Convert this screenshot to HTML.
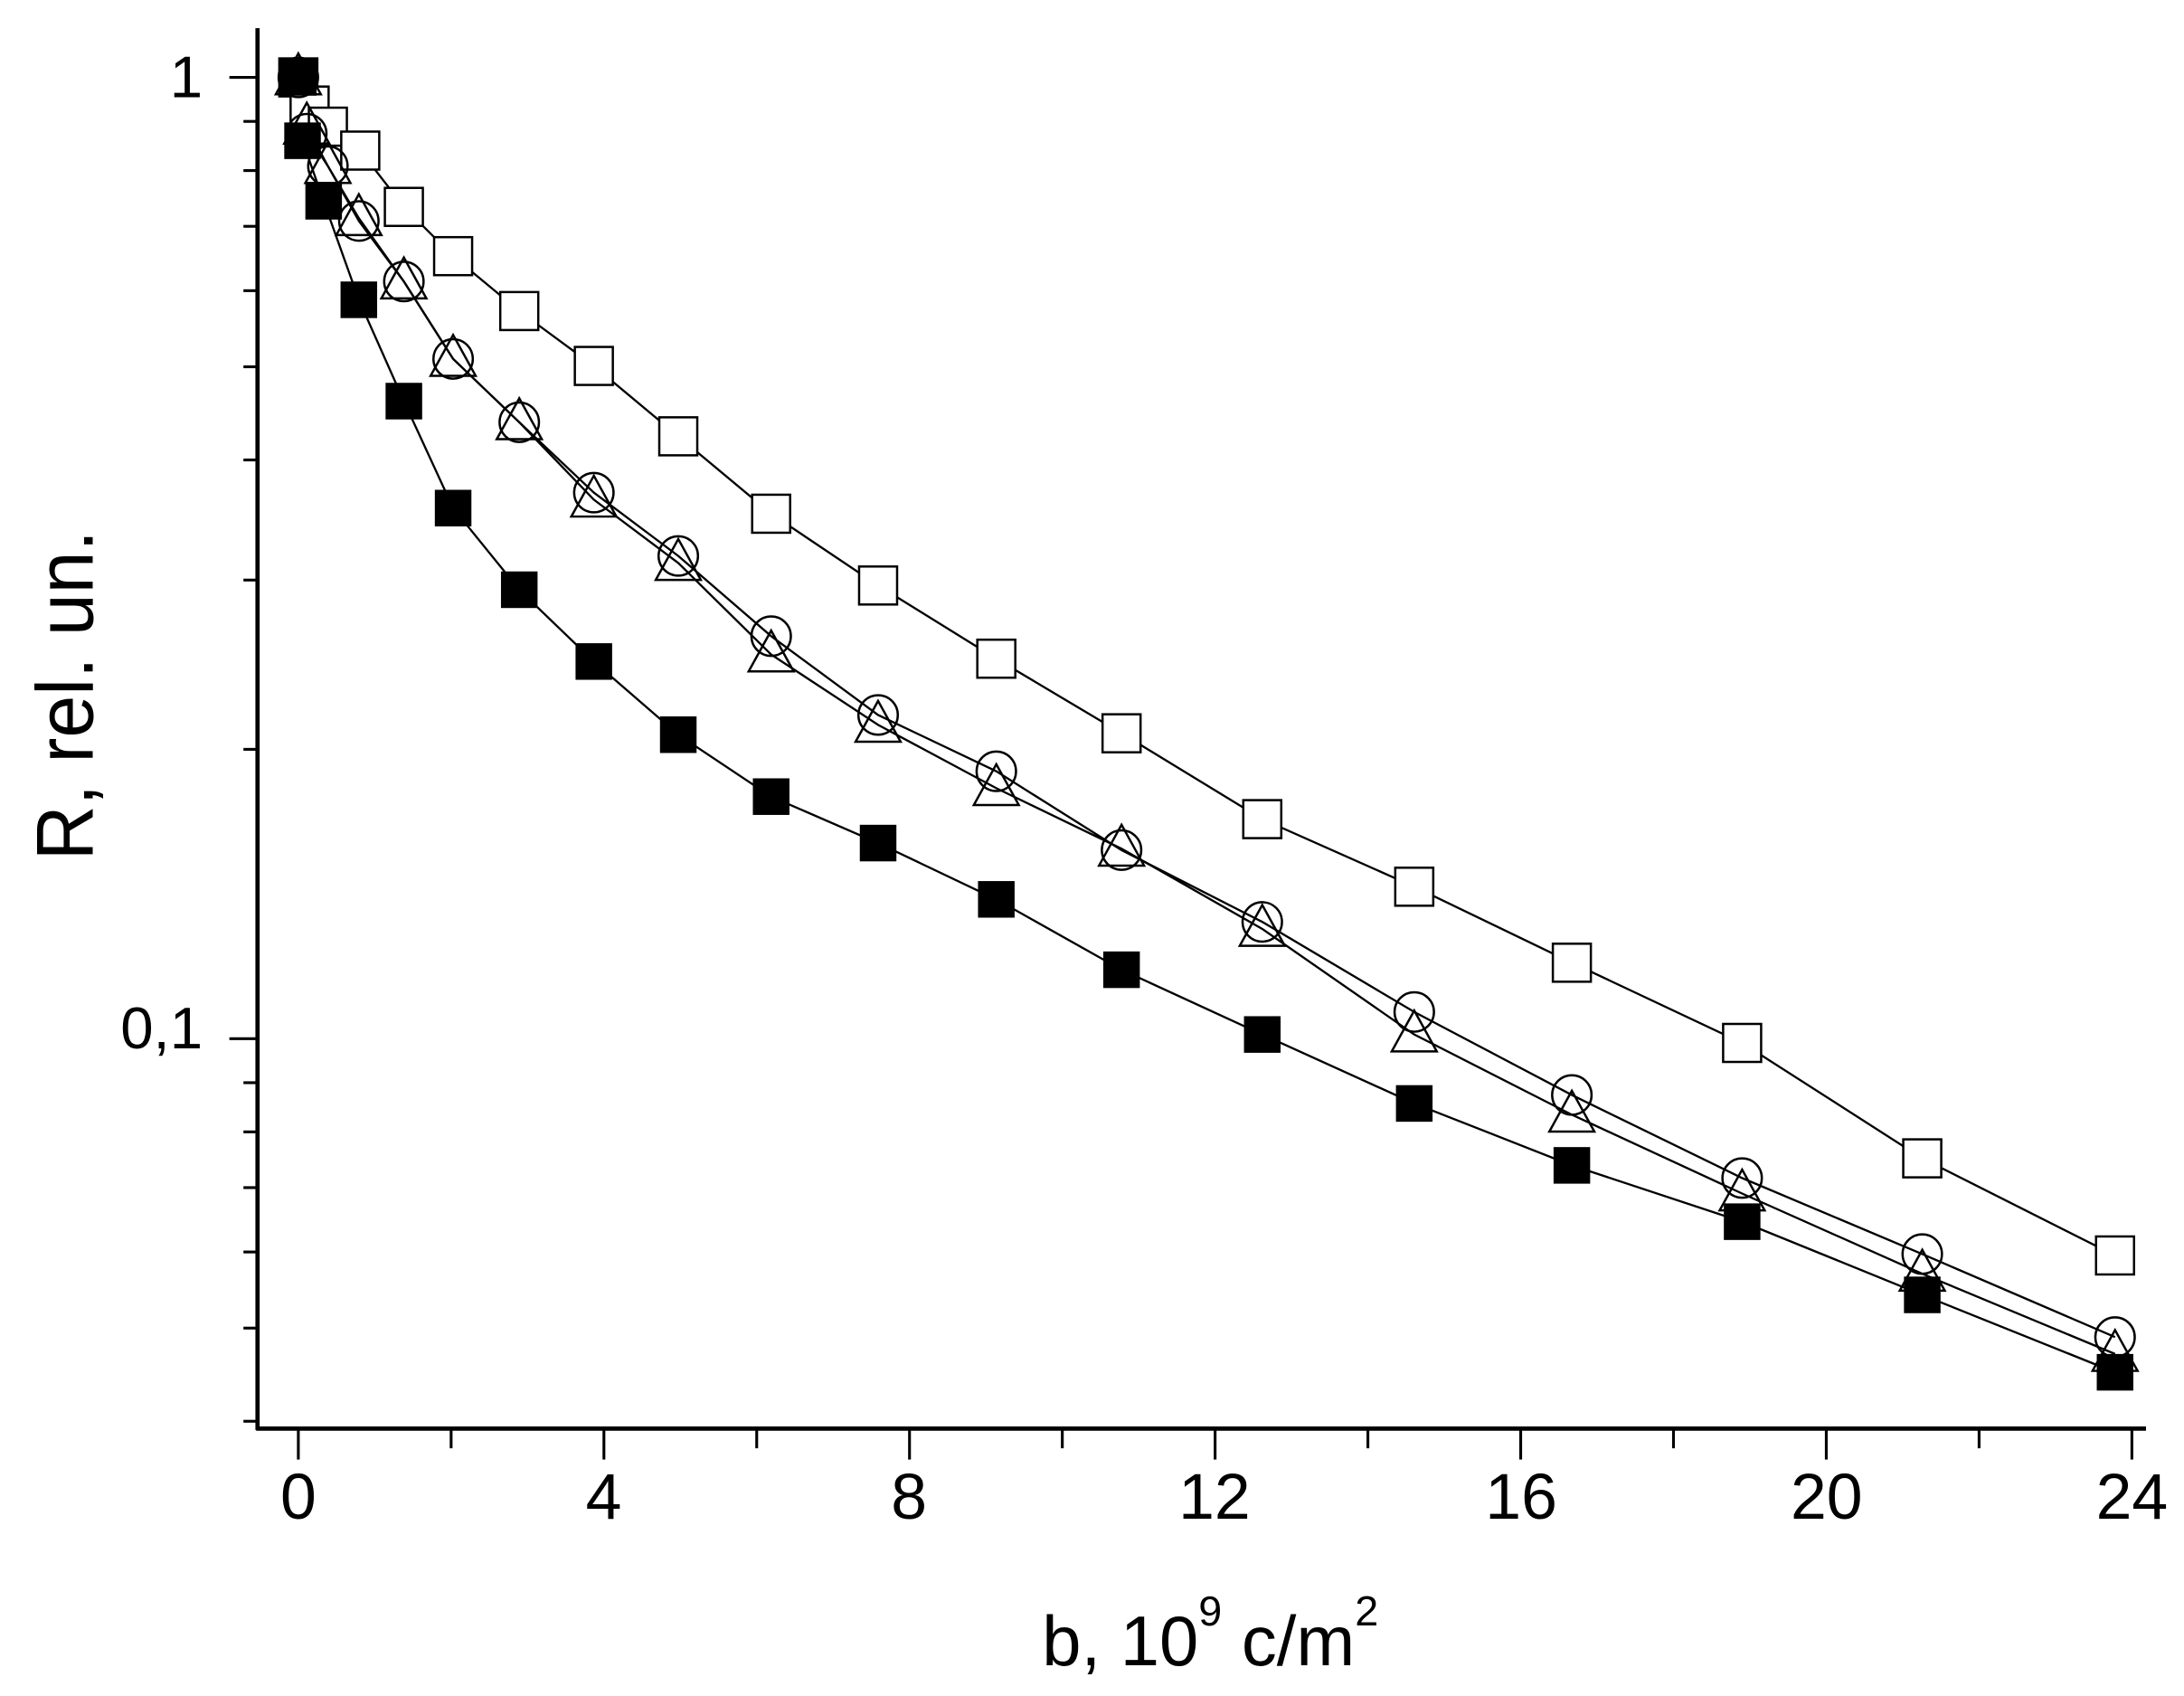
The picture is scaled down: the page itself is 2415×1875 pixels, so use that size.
<!DOCTYPE html>
<html><head><style>html,body{margin:0;padding:0;background:#fff}svg{display:block}</style></head>
<body>
<svg width="2415" height="1875" viewBox="0 0 1552 1205" preserveAspectRatio="none" xmlns="http://www.w3.org/2000/svg" font-family="Liberation Sans, sans-serif">
<rect width="1552" height="1205" fill="#fff"/>
<g stroke="#000" stroke-width="3" fill="none">
<line x1="183" y1="20" x2="183" y2="1016"/>
<line x1="182" y1="1015" x2="1525" y2="1015"/>
</g>
<g id="ticks" stroke="#000" stroke-width="2"></g>
<g font-size="46" text-anchor="middle" fill="#000">
<text x="212" y="1079">0</text><text x="429" y="1079">4</text><text x="646" y="1079">8</text>
<text x="863" y="1079">12</text><text x="1081" y="1079">16</text><text x="1298" y="1079">20</text><text x="1515" y="1079">24</text>
</g>
<g font-size="42" text-anchor="end" fill="#000">
<text x="144" y="69">1</text><text x="144" y="745">0,1</text>
</g>
<text x="860" y="1183" font-size="50" text-anchor="middle">b, 10<tspan font-size="30" dy="-28">9</tspan><tspan dy="28"> c/m</tspan><tspan font-size="30" dy="-28">2</tspan></text>
<text transform="translate(66,494) rotate(-90) scale(0.95,1)" font-size="57" text-anchor="middle">R, rel. un.</text>
<g id="data"></g>
<script>
var NS="http://www.w3.org/2000/svg";
function el(n,a,p){var e=document.createElementNS(NS,n);for(var k in a)e.setAttribute(k,a[k]);p.appendChild(e);return e;}
var t=document.getElementById('ticks');
function Y(r){return 55-Math.log10(r)*683;}
[1,.9,.8,.7,.6,.5,.4,.3,.2,.1,.09,.08,.07,.06,.05,.04].forEach(function(r){var maj=(r==1||r==.1);el('line',{x1:183-(maj?20:10),x2:183,y1:Y(r),y2:Y(r)},t);});
for(var i=0;i<=12;i++){var x=212+i*2*54.29;el('line',{x1:x,x2:x,y1:1015,y2:1015+(i%2?14:22)},t);}
var xs=[212,215,230,255,287,322,369,422,482,548,624,708,797,897,1005,1117,1238,1366,1503];
var fs=[55,100,143,213,285,361,419,470,522,566,599,639,689,735,784,828,868,920,975];
var os=[55,75,90,107,147,182,221,260,310,365,416,468,521,582,630,684,741,823,892];
var ci=[55,95,118,157,200,255,300,350,395,452,508,548,604,655,719,778,837,891,950];
var tr=[55,90,118,155,200,255,300,355,400,465,515,560,603,660,735,792,848,905,962];
var xo=[212,220,233,256,287,322,369,422,482,548,624,708,797,897,1005,1117,1238,1366,1503];
var xc=[212,218,233,255,287,322,369,422,482,548,624,708,797,897,1005,1117,1238,1366,1503];
var d=document.getElementById('data');
function line(xa,ya){el('polyline',{points:xa.map(function(x,i){return x+','+ya[i]}).join(' '),fill:'none',stroke:'#000','stroke-width':1.5},d);}
line(xo,os);line(xc,ci);line(xc,tr);line(xs,fs);
xo.forEach(function(x,i){el('rect',{x:x-13.5,y:os[i]-13.5,width:27,height:27,fill:'#fff',stroke:'#000','stroke-width':1.6},d);});
xc.forEach(function(x,i){el('circle',{cx:x,cy:ci[i],r:14,fill:'none',stroke:'#000','stroke-width':1.6},d);});
xc.forEach(function(x,i){var y=tr[i];el('polygon',{points:(x)+','+(y-17)+' '+(x-16)+','+(y+12)+' '+(x+16)+','+(y+12),fill:'none',stroke:'#000','stroke-width':1.6},d);});
xs.forEach(function(x,i){el('rect',{x:x-13,y:fs[i]-13,width:26,height:26,fill:'#000'},d);});
</script>
</svg>
</body></html>
